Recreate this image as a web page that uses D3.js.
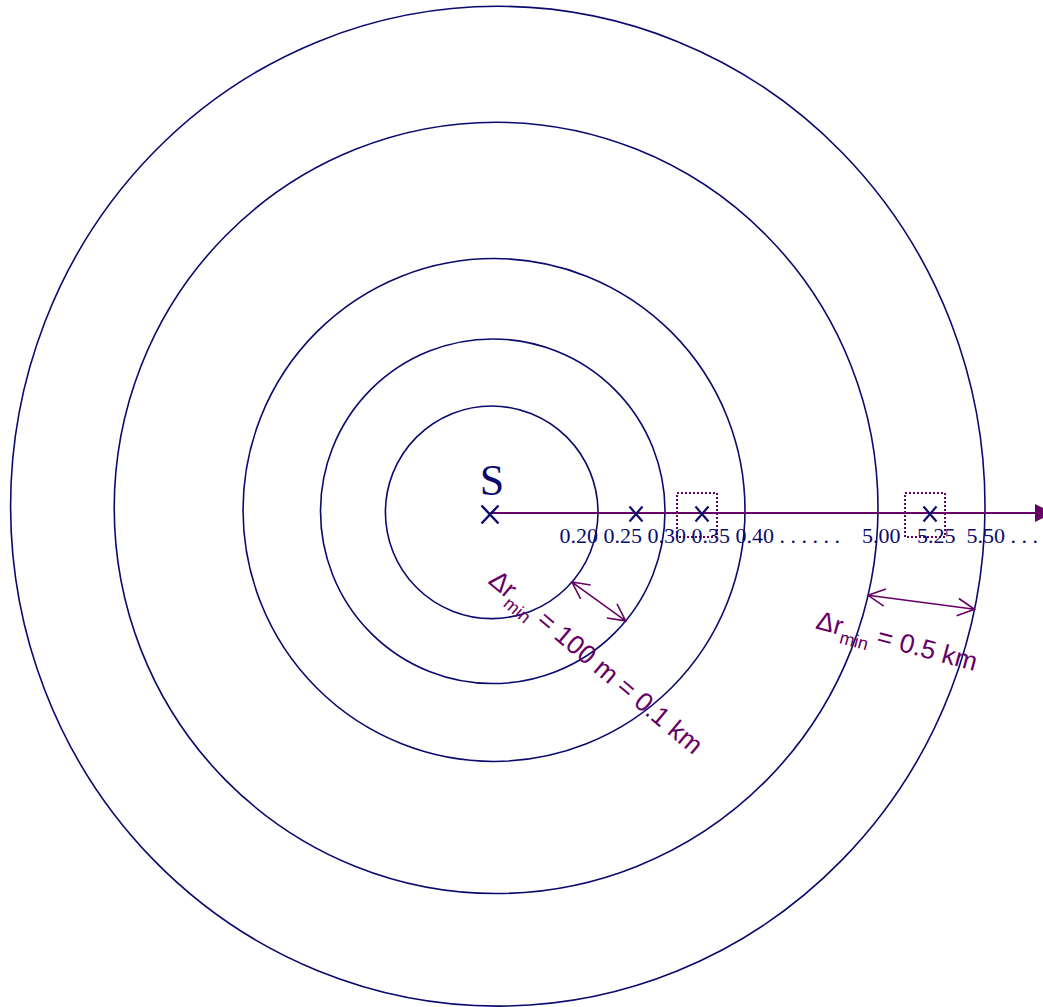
<!DOCTYPE html>
<html><head><meta charset="utf-8">
<script src="https://cdn.jsdelivr.net/npm/d3@7"></script>
<style>body{margin:0;background:#fff}svg{display:block}</style>
</head><body><svg id="c" width="1043" height="1007"></svg>
<script>
// ---- data ----
const ringDistances = [0.20, 0.30, 0.40, 5.00, 5.50];
const markerDistances = [0.25, 0.35, 5.25];
const boxedDistances = [0.35, 5.25];
const nearTickLabels = ["0.20", "0.25", "0.30", "0.35", "0.40"];
const farTickLabels = ["5.00", "5.25", "5.50"];
const axisStops = [0, 0.20, 0.25, 0.30, 0.35, 0.40, 5.00, 5.25, 5.50, 5.70];
const resolutionFrom = [0.20, 5.00];
const resolutionTo = [0.30, 5.50];
const resolutionText = ["100 m = 0.1 km", "0.5 km"];
const sourceLabel = "S";

// ---- style ----
const NAVY = "#0a0a6e", PURPLE = "#660066";
const svg = d3.select("#c");
const axisY = 513;

const x = d3.scaleLinear()
  .domain(axisStops)
  .range([490, 598, 636, 665, 702, 745, 878, 930, 985, 1053]);

// hand-drawn rings: slight drift of centre and vertical stretch of the outermost
function ring(d) {
  const rx = (x(d) - x(0)) / 1.016;
  return {
    cx: x(0) + 0.016 * rx,
    cy: axisY + 1 - 0.016 * rx,
    rx: rx,
    ry: rx * (1 + 0.026 * Math.pow(rx / 487, 4))
  };
}
function ringPoint(d, deg) {
  const r = ring(d), a = deg * Math.PI / 180;
  return [r.cx + r.rx * Math.cos(a), r.cy + r.ry * Math.sin(a)];
}

svg.append("g").selectAll("ellipse").data(ringDistances).join("ellipse")
  .attr("cx", d => ring(d).cx).attr("cy", d => ring(d).cy)
  .attr("rx", d => ring(d).rx).attr("ry", d => ring(d).ry)
  .attr("fill", "none").attr("stroke", NAVY).attr("stroke-width", 1.6);

// axis line with filled arrow head
const xEnd = x(axisStops[axisStops.length - 1]);
svg.append("line").attr("x1", x(0)).attr("x2", xEnd - 16)
  .attr("y1", axisY).attr("y2", axisY)
  .attr("stroke", PURPLE).attr("stroke-width", 2);
svg.append("path")
  .attr("d", `M${xEnd},${axisY} L${xEnd - 18},${axisY - 9} L${xEnd - 18},${axisY + 9} Z`)
  .attr("fill", PURPLE);

// dotted boxes
svg.append("g").selectAll("rect").data(boxedDistances).join("rect")
  .attr("x", d => x(d) - 25).attr("y", axisY - 20)
  .attr("width", 40).attr("height", 44)
  .attr("fill", "none").attr("stroke", PURPLE).attr("stroke-width", 2)
  .attr("stroke-dasharray", "2,2");

// x markers
function xMark(cx, cy, w, h) {
  return `M${cx - w / 2},${cy - h / 2}L${cx + w / 2},${cy + h / 2}M${cx + w / 2},${cy - h / 2}L${cx - w / 2},${cy + h / 2}`;
}
svg.append("g").selectAll("path").data(markerDistances).join("path")
  .attr("d", d => xMark(x(d), axisY + 1, 13, 15))
  .attr("stroke", NAVY).attr("stroke-width", 2.2).attr("fill", "none");
svg.append("path").attr("d", xMark(x(0), axisY + 1.5, 17, 18))
  .attr("stroke", NAVY).attr("stroke-width", 2.4).attr("fill", "none");

// S label
svg.append("text").attr("x", x(0) + 2).attr("y", axisY - 18)
  .attr("text-anchor", "middle")
  .attr("font-family", "Liberation Serif, Times New Roman, serif")
  .attr("font-size", 44).attr("fill", NAVY).text(sourceLabel);

// tick label line
const tickLine = nearTickLabels.join(" ") + " . . . . . .    " +
  farTickLabels[0] + "   " + farTickLabels[1] + "  " + farTickLabels[2] + " . . .";
svg.append("text")
  .attr("x", x(0.20)).attr("y", axisY + 30)
  .attr("text-anchor", "end")
  .attr("font-family", "Liberation Serif, Times New Roman, serif")
  .attr("font-size", 22).attr("fill", NAVY)
  .text(nearTickLabels[0]);
svg.append("text")
  .attr("x", x(0.20) + 5.5).attr("y", axisY + 30)
  .attr("font-family", "Liberation Serif, Times New Roman, serif")
  .attr("font-size", 22).attr("fill", NAVY)
  .attr("xml:space", "preserve").style("white-space", "pre")
  .text(tickLine.slice(nearTickLabels[0].length + 1));

// resolution arrows
const arrowAngles = [[41, 39.5], [13.1, 11.9]];
const labelPos = [[596, 662, 40], [897, 641, 15]];
function head(tip, from) {
  const a = Math.atan2(from[1] - tip[1], from[0] - tip[0]);
  const L = 19, h = 27 * Math.PI / 180;
  const p1 = [tip[0] + L * Math.cos(a + h), tip[1] + L * Math.sin(a + h)];
  const p2 = [tip[0] + L * Math.cos(a - h), tip[1] + L * Math.sin(a - h)];
  return `M${p1}L${tip}L${p2}`;
}
resolutionFrom.forEach((d0, i) => {
  const p0 = ringPoint(d0, arrowAngles[i][0]);
  const p1 = ringPoint(resolutionTo[i], arrowAngles[i][1]);
  svg.append("path")
    .attr("d", `M${p0}L${p1}` + head(p0, p1) + head(p1, p0))
    .attr("fill", "none").attr("stroke", PURPLE).attr("stroke-width", 1.6);
  const [lx, ly, rot] = labelPos[i];
  const t = svg.append("text")
    .attr("transform", `translate(${lx},${ly}) rotate(${rot})`)
    .attr("y", 9).attr("text-anchor", "middle")
    .attr("font-family", "Liberation Sans, Arial, sans-serif")
    .attr("font-size", 26.5).attr("fill", PURPLE);
  t.append("tspan").text("\u0394r");
  t.append("tspan").attr("font-size", 18).attr("dy", 8).text("min");
  t.append("tspan").attr("dy", -8).text(" = " + resolutionText[i]);
});
</script>
</body></html>
